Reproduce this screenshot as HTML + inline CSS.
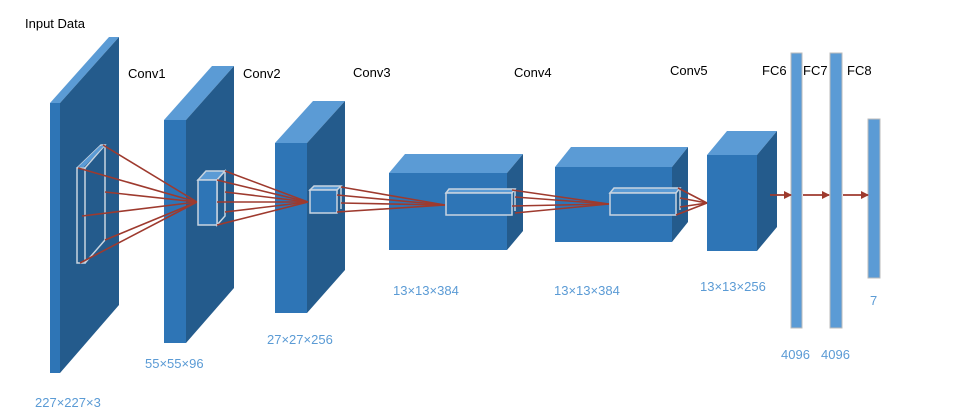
<!DOCTYPE html>
<html><head><meta charset="utf-8"><style>
html,body{margin:0;padding:0;background:#fff;}
svg{display:block;}
text{font-family:"Liberation Sans",Arial,sans-serif;}
.k{fill:#000;font-size:13px;}
.b{fill:#5b9bd5;font-size:13px;}
</style></head><body>
<svg width="977" height="412" viewBox="0 0 977 412" xmlns="http://www.w3.org/2000/svg">
<defs>
<marker id="ah" markerWidth="8" markerHeight="8" refX="7" refY="4" orient="auto" markerUnits="userSpaceOnUse">
<path d="M0,0 L8,4 L0,8 z" fill="#9e3a2e"/></marker>
</defs>
<!-- Block1 -->
<polygon points="50,103 60,103 119,37 109,37" fill="#5b9bd5"/>
<polygon points="60,103 119,37 119,305 60,373" fill="#245b8c"/>
<rect x="50" y="103" width="10" height="270" fill="#2e75b6"/>
<!-- Block2 -->
<polygon points="164,120 186,120 234,66 212,66" fill="#5b9bd5"/>
<polygon points="186,120 234,66 234,288 186,343" fill="#245b8c"/>
<rect x="164" y="120" width="22" height="223" fill="#2e75b6"/>
<!-- Block3 -->
<polygon points="275,143 307,143 345,101 313,101" fill="#5b9bd5"/>
<polygon points="307,143 345,101 345,270 307,313" fill="#245b8c"/>
<rect x="275" y="143" width="32" height="170" fill="#2e75b6"/>
<!-- Block4 -->
<polygon points="389,173 507,173 523,154 405,154" fill="#5b9bd5"/>
<polygon points="507,173 523,154 523,231 507,250" fill="#245b8c"/>
<rect x="389" y="173" width="118" height="77" fill="#2e75b6"/>
<!-- Block5 -->
<polygon points="555,167 672,167 688,147 571,147" fill="#5b9bd5"/>
<polygon points="672,167 688,147 688,222 672,242" fill="#245b8c"/>
<rect x="555" y="167" width="117" height="75" fill="#2e75b6"/>
<!-- Block6 -->
<polygon points="707,155 757,155 777,131 727,131" fill="#5b9bd5"/>
<polygon points="757,155 777,131 777,227 757,251" fill="#245b8c"/>
<rect x="707" y="155" width="50" height="96" fill="#2e75b6"/>
<!-- FC -->
<rect x="791" y="53" width="11" height="275" fill="#5b9bd5" stroke="#bbb" stroke-width="1"/>
<rect x="830" y="53" width="12" height="275" fill="#5b9bd5" stroke="#bbb" stroke-width="1"/>
<rect x="868" y="119" width="12" height="159" fill="#5b9bd5" stroke="#bbb" stroke-width="1"/>
<!-- kernel1 -->
<g fill="none" stroke="#c8d4e0" stroke-width="1.5">
<polygon points="77,168 85,168 85,263 77,263"/>
<polyline points="77,168 101,145 105,145 85,168"/>
<line x1="105" y1="145" x2="105" y2="240"/>
<line x1="105" y1="240" x2="85" y2="263"/>
</g>
<polygon points="78,167 100,146 104,146 84,167" fill="#5b9bd5"/>
<g stroke="#9e3a2e" stroke-width="1.6">
<line x1="103" y1="145" x2="197" y2="202"/>
<line x1="78" y1="168" x2="197" y2="202"/>
<line x1="105" y1="192" x2="197" y2="202"/>
<line x1="82" y1="216" x2="197" y2="202"/>
<line x1="105" y1="240" x2="197" y2="202"/>
<line x1="80" y1="263" x2="197" y2="202"/>
</g>
<!-- kernel2 -->
<polygon points="198,180 217,180 225,171 206,171" fill="#5b9bd5" stroke="#c8d4e0" stroke-width="1.5"/>
<polygon points="217,180 225,171 225,216 217,225" fill="#245b8c" stroke="#c8d4e0" stroke-width="1.5"/>
<rect x="198" y="180" width="19" height="45" fill="#2e75b6" stroke="#c8d4e0" stroke-width="1.5"/>
<g stroke="#9e3a2e" stroke-width="1.6">
<line x1="225" y1="171" x2="308" y2="202"/>
<line x1="217" y1="180" x2="308" y2="202"/>
<line x1="225" y1="192" x2="308" y2="202"/>
<line x1="217" y1="202" x2="308" y2="202"/>
<line x1="225" y1="212" x2="308" y2="202"/>
<line x1="217" y1="225" x2="308" y2="202"/>
</g>
<!-- kernel3 -->
<polygon points="310,190 337,190 341,186 314,186" fill="#5b9bd5" stroke="#c8d4e0" stroke-width="1.5"/>
<rect x="310" y="190" width="27" height="23" fill="#2e75b6" stroke="#c8d4e0" stroke-width="1.5"/>
<line x1="341" y1="186" x2="341" y2="209" stroke="#c8d4e0" stroke-width="1.5"/>
<g stroke="#9e3a2e" stroke-width="1.6">
<line x1="341" y1="187" x2="445" y2="205"/>
<line x1="337" y1="195" x2="445" y2="205"/>
<line x1="341" y1="203" x2="445" y2="205"/>
<line x1="337" y1="212" x2="445" y2="205"/>
</g>
<!-- kernel4 -->
<polygon points="446,193 512,193 515,189 449,189" fill="#5b9bd5" stroke="#c8d4e0" stroke-width="1.5"/>
<rect x="446" y="193" width="66" height="22" fill="#2e75b6" stroke="#c8d4e0" stroke-width="1.5"/>
<line x1="515" y1="189" x2="515" y2="211" stroke="#c8d4e0" stroke-width="1.5"/>
<g stroke="#9e3a2e" stroke-width="1.6">
<line x1="512" y1="190" x2="609" y2="204"/>
<line x1="515" y1="197" x2="609" y2="204"/>
<line x1="512" y1="206" x2="609" y2="204"/>
<line x1="515" y1="213" x2="609" y2="204"/>
</g>
<!-- kernel5 -->
<polygon points="610,193 676,193 680,188 614,188" fill="#5b9bd5" stroke="#c8d4e0" stroke-width="1.5"/>
<rect x="610" y="193" width="66" height="22" fill="#2e75b6" stroke="#c8d4e0" stroke-width="1.5"/>
<line x1="680" y1="188" x2="680" y2="210" stroke="#c8d4e0" stroke-width="1.5"/>
<g stroke="#9e3a2e" stroke-width="1.6">
<line x1="678" y1="188" x2="707" y2="203"/>
<line x1="680" y1="198" x2="707" y2="203"/>
<line x1="680" y1="207" x2="707" y2="203"/>
<line x1="676" y1="215" x2="707" y2="203"/>
</g>
<!-- arrows -->
<g stroke="#9e3a2e" stroke-width="1.8" marker-end="url(#ah)">
<line x1="770" y1="195" x2="791" y2="195"/>
<line x1="803" y1="195" x2="829" y2="195"/>
<line x1="843" y1="195" x2="868" y2="195"/>
</g>
<!-- labels -->
<text class="k" x="25" y="28">Input Data</text>
<text class="k" x="128" y="78">Conv1</text>
<text class="k" x="243" y="78">Conv2</text>
<text class="k" x="353" y="77">Conv3</text>
<text class="k" x="514" y="77">Conv4</text>
<text class="k" x="670" y="75">Conv5</text>
<text class="k" x="762" y="75">FC6</text>
<text class="k" x="803" y="75">FC7</text>
<text class="k" x="847" y="75">FC8</text>
<text class="b" x="35" y="407">227×227×3</text>
<text class="b" x="145" y="368">55×55×96</text>
<text class="b" x="267" y="344">27×27×256</text>
<text class="b" x="393" y="295">13×13×384</text>
<text class="b" x="554" y="295">13×13×384</text>
<text class="b" x="700" y="291">13×13×256</text>
<text class="b" x="781" y="359">4096</text>
<text class="b" x="821" y="359">4096</text>
<text class="b" x="870" y="305">7</text>
</svg>
</body></html>
